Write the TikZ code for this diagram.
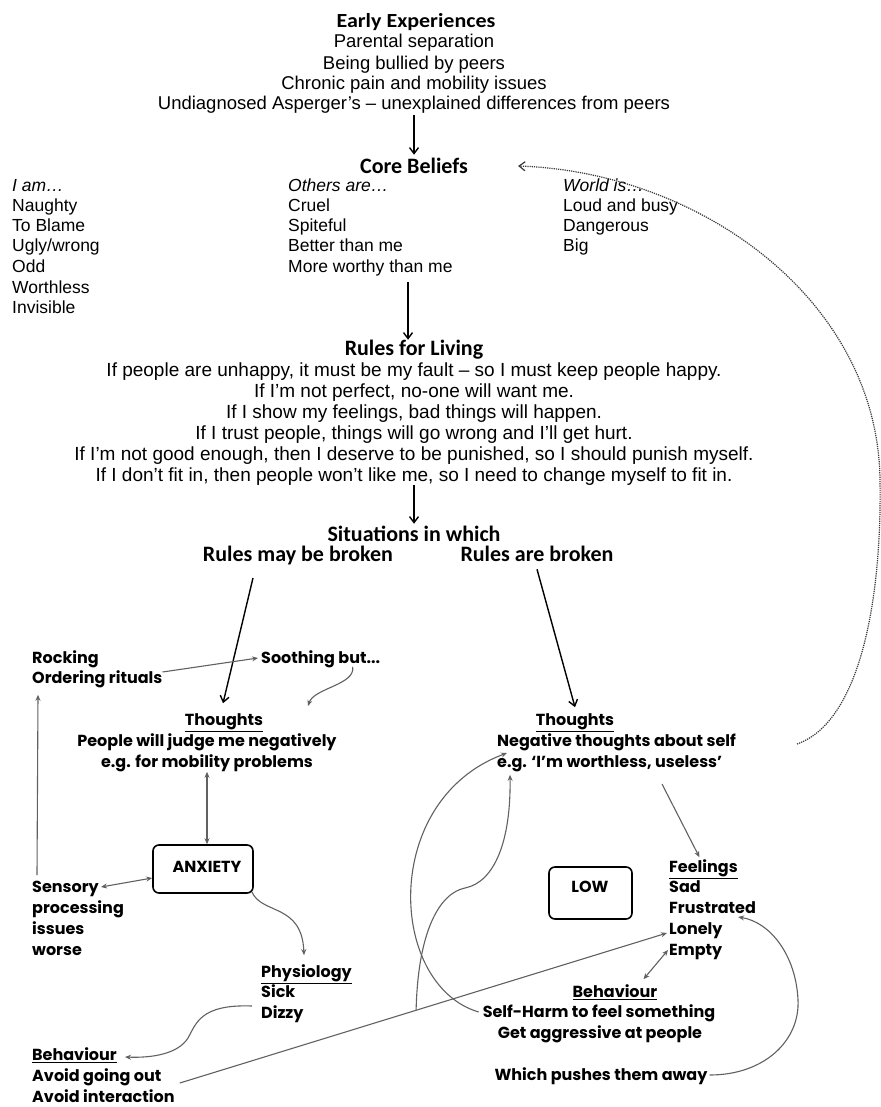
\documentclass[tikz,border=0pt]{standalone}
\usepackage{fontspec}
\setmainfont{Liberation Sans}
\newfontfamily\calfont{Carlito}
\newfontfamily\gothfont{Poppins}
\usetikzlibrary{arrows.meta}
\begin{document}
\begin{tikzpicture}[x=1pt,y=-1pt,
  ar/.style={font=\fontsize{18.5}{20}\selectfont, inner sep=0pt, text height=13.3pt, text depth=0pt},
  li/.style={font=\fontsize{17.5}{19}\selectfont, inner sep=0pt, anchor=west, text height=12.6pt, text depth=0pt},
  hd/.style={font=\calfont\bfseries\fontsize{22}{24}\selectfont, inner sep=0pt, text height=14.1pt, text depth=0pt},
  rl/.style={font=\fontsize{19}{21}\selectfont, inner sep=0pt, text height=13.7pt, text depth=0pt},
  gt/.style={font=\gothfont\bfseries\fontsize{16}{17}\selectfont, inner sep=0pt, text height=11.2pt, text depth=0pt},
  gtw/.style={gt, anchor=west},
  bx/.style={draw, line width=1.6pt, rounded corners=6pt, inner sep=0pt},
  blk/.style={-{Straight Barb[length=6pt,width=9pt]}, line width=1.4pt, black},
  gar/.style={-{Stealth[length=6pt,width=5pt]}, line width=1.1pt, black!62},
  dar/.style={{Stealth[length=6pt,width=5pt]}-{Stealth[length=6pt,width=5pt]}, line width=1.1pt, black!62},
  dots/.style={-{Straight Barb[length=6pt,width=9pt]}, line width=1.2pt, black!78, densely dotted},
]
\useasboundingbox (0,0) rectangle (880,1107);
\fill[white] (0,0) rectangle (880,1107);

% ---------- Early experiences
\node[hd, font=\calfont\bfseries\fontsize{20}{22}\selectfont, text height=12.8pt] (ee) at (416,21) {\scalebox{1.1}[1]{Early Experiences}};
\node[ar] (ee1) at (414,41) {Parental separation};
\node[ar] (ee2) at (414,63) {Being bullied by peers};
\node[ar] (ee3) at (414,83) {Chronic pain and mobility issues};
\node[ar] (ee4) at (414,103) {Undiagnosed Asperger's – unexplained differences from peers};

% ---------- Core beliefs
\node[hd] (cb) at (414,166) {Core Beliefs};
\draw[blk] ([yshift=-5pt]ee4.south) -- ([yshift=4pt]cb.north);

\node[li] (iam) at (12,185) {\itshape I am…};
\node[li] (iam1) at (12,205) {Naughty};
\node[li] (iam2) at (12,225) {To Blame};
\node[li] (iam3) at (12,245) {Ugly/wrong};
\node[li] (iam4) at (12,266) {Odd};
\node[li] (iam5) at (12,287) {Worthless};
\node[li] (iam6) at (12,307) {Invisible};

\node[li] (oth) at (288,185) {\itshape Others are…};
\node[li] (oth1) at (288,205) {Cruel};
\node[li] (oth2) at (288,225) {Spiteful};
\node[li] (oth3) at (288,245) {Better than me};
\node[li] (oth4) at (288,266) {More worthy than me};

\node[li] (wld) at (563,185) {\itshape World is…};
\node[li] (wld1) at (563,205) {Loud and busy};
\node[li] (wld2) at (563,225) {Dangerous};
\node[li] (wld3) at (563,245) {Big};

% ---------- Rules for living
\node[hd] (rfl) at (414,348) {Rules for Living};
\coordinate (c2) at (408,282);
\draw[blk] (c2) -- ([yshift=1pt]c2 |- rfl.north);
\node[rl] (r1) at (414,370) {If people are unhappy, it must be my fault – so I must keep people happy.};
\node[rl] (r2) at (414,391) {If I'm not perfect, no-one will want me.};
\node[rl] (r3) at (414,412) {If I show my feelings, bad things will happen.};
\node[rl] (r4) at (414,433) {If I trust people, things will go wrong and I'll get hurt.};
\node[rl] (r5) at (414,454) {If I'm not good enough, then I deserve to be punished, so I should punish myself.};
\node[rl] (r6) at (414,475) {If I don't fit in, then people won't like me, so I need to change myself to fit in.};

% ---------- Situations
\node[hd] (sit) at (414,534) {Situations in which};
\draw[blk] ([yshift=-3pt]r6.south) -- ([yshift=3pt]sit.north);
\node[hd] (rmb) at (298,554) {Rules may be broken};
\node[hd] (rab) at (537,554) {Rules are broken};

% ---------- Left (anxiety)
\node[gtw] (rock) at (32,658) {Rocking};
\node[gtw] (ord) at (32,678) {Ordering rituals};
\node[gtw] (sooth) at (261,658) {Soothing but...};
\node[gt] (thL) at (224,720) {\underline{Thoughts}};
\node[gt] (thL1) at (207,741) {People will judge me negatively};
\node[gt] (thL2) at (207,762) {e.g. for mobility problems};
\node[bx, minimum width=100pt, minimum height=48pt] (anx) at (203,869) {};
\node[gt] (anxt) at (207,867) {ANXIETY};
\node[gtw] (sens1) at (32,887) {Sensory};
\node[gtw] (sens2) at (32,908) {processing};
\node[gtw] (sens3) at (32,929) {issues};
\node[gtw] (sens4) at (32,950) {worse};
\node[gtw] (phys) at (261,972) {\underline{Physiology}};
\node[gtw] (sick) at (261,992) {Sick};
\node[gtw] (dizzy) at (261,1013) {Dizzy};
\node[gtw] (behL) at (32,1055) {\underline{Behaviour}};
\node[gtw] (avo1) at (32,1076) {Avoid going out};
\node[gtw] (avo2) at (32,1097) {Avoid interaction};

\coordinate (rmbA) at (253,578);
\draw[blk] (rmbA) -- ([xshift=-1pt,yshift=11pt]thL.north);
\draw[gar] ([yshift=6pt]ord.east) -- ([xshift=-3pt]sooth.west);
\coordinate (sq) at (308,706);
\draw[gar] ([xshift=32pt,yshift=-3pt]sooth.south) .. controls +(3,18) and +(6,-18) .. (sq);
\draw[dar] ([yshift=-4pt]thL2.south) -- (thL2.south |- anx.north);
\draw[dar] ([xshift=2pt]sens1.east) -- ([yshift=-9pt]anx.west);
\draw[gar] ([xshift=5pt,yshift=6pt]sens1.north west) -- ([xshift=6pt,yshift=-11pt]ord.south west);
\draw[gar] ([xshift=-2pt,yshift=2pt]anx.south east) .. controls (262,915) and (302,903) .. ([xshift=43pt,yshift=11pt]phys.north west);
\draw[gar] ([xshift=-9pt,yshift=7pt]dizzy.west) .. controls (200,1004) and (196,1024) .. (188,1038)
   .. controls (178,1054) and (152,1058) .. ([xshift=8pt,yshift=-2pt]behL.east);

% ---------- Right (low)
\node[gt] (thR) at (575,720) {\underline{Thoughts}};
\node[gtw] (thR1) at (497,741) {Negative thoughts about self};
\node[gtw] (thR2) at (497,762) {e.g. ‘I’m worthless, useless’};
\node[bx, minimum width=83pt, minimum height=52pt] (low) at (590.5,893) {};
\node[gt] (lowt) at (590,887) {LOW};
\node[gtw] (feel) at (669,867) {\underline{Feelings}};
\node[gtw] (sad) at (669,887) {Sad};
\node[gtw] (frus) at (669,908) {Frustrated};
\node[gtw] (lonely) at (669,929) {Lonely};
\node[gtw] (empty) at (669,950) {Empty};
\node[gt] (behR) at (615,992) {\underline{Behaviour}};
\node[gt] (sh) at (599,1012) {Self-Harm to feel something};
\node[gt] (agg) at (600,1033) {Get aggressive at people};
\node[gt] (push) at (601,1075) {Which pushes them away};

\draw[blk] ([yshift=-8pt]rab.south) -- ([yshift=7pt]thR.north);
\coordinate (tr) at (662,784);
\draw[gar] (tr) -- ([xshift=-4pt,yshift=4pt]feel.north);
\draw[dar] ([xshift=-1pt]empty.west) -- ([xshift=-14pt,yshift=7pt]behR.north east);
\draw[gar] ([xshift=2pt]push.east) .. controls (765,1075) and (800,1040) .. (798,1000)
   .. controls (796,955) and (770,922) .. ([xshift=-18pt,yshift=-9pt]frus.east);
\draw[gar] ([xshift=5pt,yshift=14pt]avo2.east) -- coordinate[pos=0.485] (br) ([xshift=-2pt,yshift=-4pt]lonely.west);
\draw[gar] ([xshift=-4pt]sh.west) .. controls (388,985) and (380,800) .. ([xshift=10pt,yshift=-12pt]thR1.west);
\draw[gar] (br) .. controls (418,930) and (440,893) .. (465,888)
   .. controls (495,882) and (511,840) .. ([xshift=13pt,yshift=-7pt]thR2.south west);

% ---------- dotted feedback
\coordinate (fb) at (797,744);
\draw[dots] (fb) .. controls (860,722) and (882,600) .. (880,480)
   .. controls (878,300) and (700,172) .. ([xshift=50pt]cb.east);
\end{tikzpicture}
\end{document}
